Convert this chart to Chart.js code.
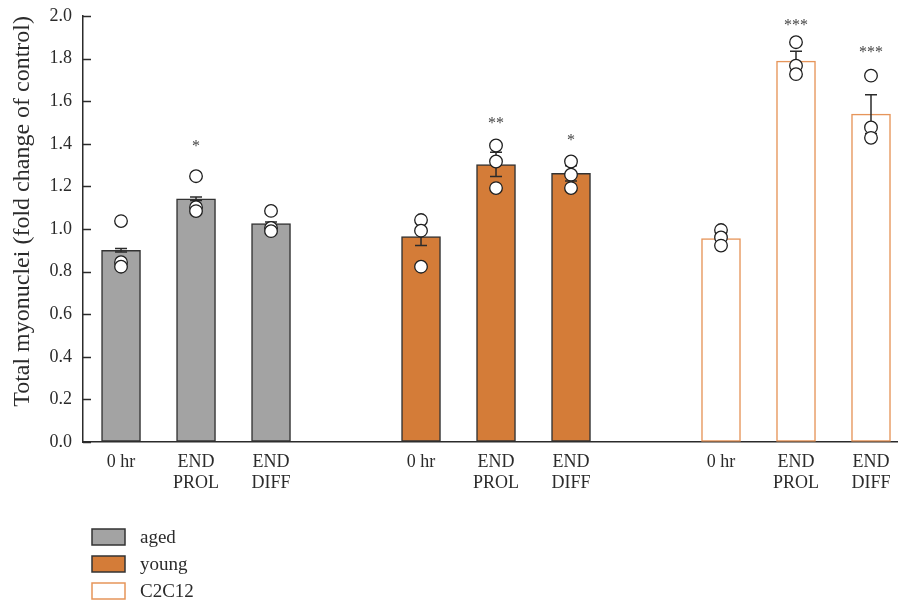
<!DOCTYPE html>
<html lang="en">
<head>
  <meta charset="UTF-8">
  <title>Total myonuclei</title>
  <style>
    body {
      margin: 0;
      background: #fff;
    }
    #wrap {
      width: 898px;
      height: 608px;
    }
  </style>
</head>
<body>

<div id="wrap"><canvas id="chart" width="898" height="608"></canvas></div>

<script src="https://cdn.jsdelivr.net/npm/chart.js"></script>

<script>
  // x slots for the bars (3 and 7 are the empty gaps between the groups)
  var agedPos = [0, 1, 2];
  var youngPos = [4, 5, 6];
  var c2c12Pos = [8, 9, 10];
  var tickLabels = [['0 hr'], ['END', 'PROL'], ['END', 'DIFF']];

  // bar means and error (SEM)
  var agedMeans = [0.900, 1.142, 1.025];
  var youngMeans = [0.964, 1.303, 1.261];
  var c2c12Means = [0.955, 1.788, 1.539];
  var agedErr = [0.008, 0.008, 0.008];
  var youngErr = [0.042, 0.057, 0.036];
  var c2c12Err = [0.020, 0.046, 0.091];

  // individual replicates
  var agedPoints = [[1.037, 0.844, 0.823], [1.248, 1.102, 1.084], [1.085, 1.005, 0.990]];
  var youngPoints = [[1.042, 0.992, 0.823], [1.392, 1.317, 1.192], [1.317, 1.255, 1.192]];
  var c2c12Points = [[0.995, 0.960, 0.922], [1.877, 1.767, 1.727], [1.720, 1.477, 1.428]];

  // significance marks
  var agedStars = ['', '*', ''];
  var youngStars = ['', '**', '*'];
  var c2c12Stars = ['', '***', '***'];
  var agedStarY = [0, 1.405, 0];
  var youngStarY = [0, 1.512, 1.434];
  var c2c12StarY = [0, 1.972, 1.845];

  var FONT = "'Liberation Serif', 'Times New Roman', serif";
  var INK = '#2b2b2b';

  function barData(pos, means, err, points, stars, starY) {
    return pos.map(function(p, i) {
      return { x: p, y: means[i], err: err[i], pts: points[i], star: stars[i], starY: starY[i] };
    });
  }

  function pointData(pos, points) {
    var out = [];
    pos.forEach(function(p, i) {
      points[i].forEach(function(v) { out.push({ x: p, y: v }); });
    });
    return out;
  }

  var allPos = agedPos.concat(youngPos, c2c12Pos);

  // error bars (after the bars, under the dots), stars, inner ticks and legend
  var extras = {
    id: 'extras',
    afterDatasetDraw: function(chart, args) {
      if (args.index !== 0) return;
      var ctx = chart.ctx;
      var y = chart.scales.y;
      ctx.save();
      ctx.strokeStyle = INK;
      ctx.lineWidth = 1.5;
      chart.data.datasets.forEach(function(ds, di) {
        if (ds.type === 'scatter') return;
        var meta = chart.getDatasetMeta(di);
        meta.data.forEach(function(el, i) {
          var d = ds.data[i];
          var top = y.getPixelForValue(d.y + d.err);
          var bot = y.getPixelForValue(d.y - d.err);
          ctx.beginPath();
          ctx.moveTo(el.x, top); ctx.lineTo(el.x, bot);
          ctx.moveTo(el.x - 6, top); ctx.lineTo(el.x + 6, top);
          ctx.moveTo(el.x - 6, bot); ctx.lineTo(el.x + 6, bot);
          ctx.stroke();
        });
      });
      ctx.restore();
    },
    afterDraw: function(chart) {
      var ctx = chart.ctx;
      var x = chart.scales.x;
      var y = chart.scales.y;
      ctx.save();
      // stars
      ctx.fillStyle = '#444';
      ctx.font = '16px ' + FONT;
      ctx.textAlign = 'center';
      ctx.textBaseline = 'alphabetic';
      chart.data.datasets.forEach(function(ds) {
        if (ds.type === 'scatter') return;
        ds.data.forEach(function(d) {
          if (!d.star) return;
          ctx.fillText(d.star, x.getPixelForValue(d.x), y.getPixelForValue(d.starY) + 8);
        });
      });
      // inward tick marks on the y axis
      ctx.strokeStyle = INK;
      ctx.lineWidth = 1.5;
      y.ticks.forEach(function(t) {
        var py = Math.round(y.getPixelForValue(t.value)) + 0.5;
        ctx.beginPath();
        ctx.moveTo(chart.chartArea.left, py);
        ctx.lineTo(chart.chartArea.left + 8, py);
        ctx.stroke();
      });
      // legend
      var legendY = [537, 564, 591];
      ctx.font = '19px ' + FONT;
      ctx.textAlign = 'left';
      ctx.textBaseline = 'middle';
      chart.data.datasets.forEach(function(ds, i) {
        if (ds.type === 'scatter') return;
        ctx.fillStyle = ds.backgroundColor;
        ctx.fillRect(92, legendY[i] - 8, 33, 16);
        ctx.strokeStyle = ds.borderColor;
        ctx.lineWidth = 1.5;
        ctx.strokeRect(92, legendY[i] - 8, 33, 16);
        ctx.fillStyle = INK;
        ctx.fillText(ds.label, 140, legendY[i] + 1);
      });
      ctx.restore();
    }
  };

  function barSet(label, fill, border, data) {
    return {
      label: label,
      data: data,
      backgroundColor: fill,
      borderColor: border,
      borderWidth: 1.5,
      borderSkipped: false,
      barThickness: 39,
      grouped: false,
      order: 1
    };
  }

  var ctx = document.getElementById('chart').getContext('2d');
  var chart = new Chart(ctx, {
    type: 'bar',
    data: {
      datasets: [
        barSet('aged', '#a3a3a3', '#333333', barData(agedPos, agedMeans, agedErr, agedPoints, agedStars, agedStarY)),
        barSet('young', '#d47c38', '#333333', barData(youngPos, youngMeans, youngErr, youngPoints, youngStars, youngStarY)),
        barSet('C2C12', '#ffffff', '#e6955a', barData(c2c12Pos, c2c12Means, c2c12Err, c2c12Points, c2c12Stars, c2c12StarY)),
        {
          type: 'scatter',
          label: 'points',
          data: pointData(agedPos, agedPoints).concat(pointData(youngPos, youngPoints), pointData(c2c12Pos, c2c12Points)),
          backgroundColor: '#ffffff',
          borderColor: '#1e1e1e',
          borderWidth: 1.3,
          pointRadius: 6.3,
          order: 0
        }
      ]
    },
    options: {
      responsive: false,
      animation: false,
      layout: { autoPadding: false, padding: { top: 16, right: 0, bottom: 106, left: 0 } },
      plugins: {
        legend: { display: false },
        tooltip: { enabled: false }
      },
      scales: {
        x: {
          type: 'linear',
          min: -0.507,
          max: 10.36,
          offset: false,
          grid: { display: false, drawTicks: false },
          border: { display: true, color: INK, width: 1.5 },
          afterBuildTicks: function(scale) {
            scale.ticks = allPos.map(function(v) { return { value: v }; });
          },
          afterFit: function(scale) {
            scale.height = 60;
            scale.paddingLeft = 0;
            scale.paddingRight = 0;
          },
          ticks: {
            autoSkip: false,
            maxRotation: 0,
            padding: 9,
            color: INK,
            font: { family: FONT, size: 18, lineHeight: 1.2 },
            callback: function(v) {
              var i = allPos.indexOf(v);
              return i < 0 ? '' : tickLabels[i % 3];
            }
          }
        },
        y: {
          min: 0,
          max: 2,
          grid: { drawOnChartArea: false, drawTicks: false },
          border: { display: true, color: INK, width: 1.5 },
          afterFit: function(scale) {
            scale.width = 83;
            scale.paddingTop = 0;
            scale.paddingBottom = 0;
          },
          ticks: {
            stepSize: 0.2,
            padding: 11,
            color: INK,
            font: { family: FONT, size: 18 },
            callback: function(v) { return v.toFixed(1); }
          },
          title: {
            display: true,
            text: 'Total myonuclei (fold change of control)',
            align: 'end',
            color: INK,
            font: { family: FONT, size: 24 },
            padding: { top: 8, bottom: 0 }
          }
        }
      }
    },
    plugins: [extras]
  });
</script>

</body>
</html>
